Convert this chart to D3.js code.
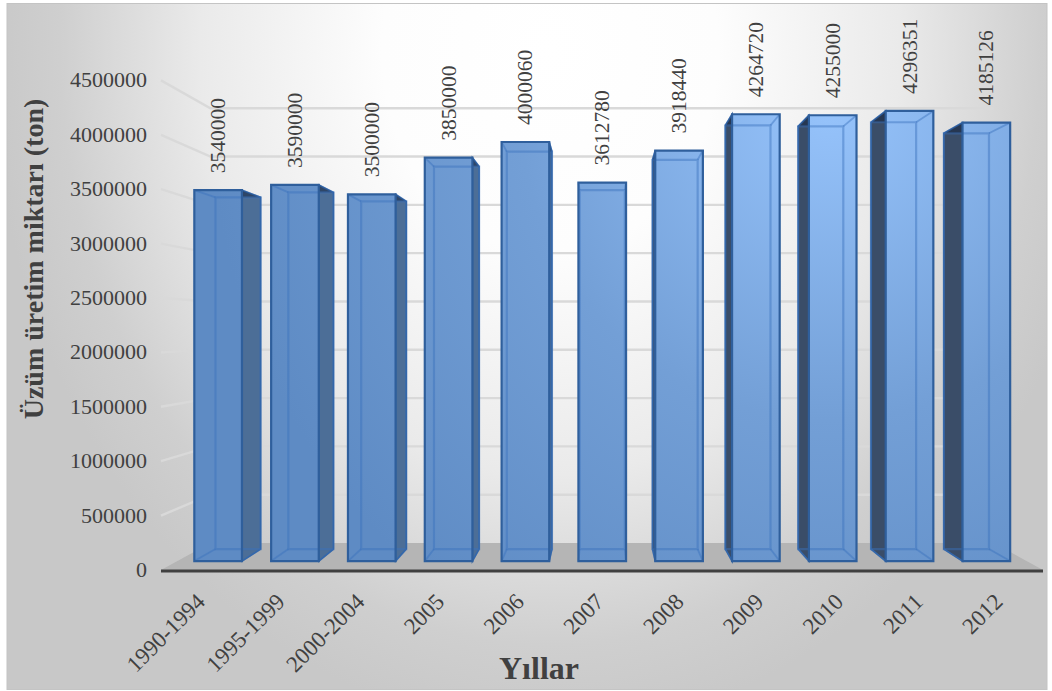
<!DOCTYPE html>
<html><head><meta charset="utf-8">
<script src="https://cdn.jsdelivr.net/npm/d3@7"></script>
<style>html,body{margin:0;padding:0;background:#fff}svg{display:block}</style></head>
<body><svg id="c" width="1052" height="691"></svg>
<script>
const categories=["1990-1994","1995-1999","2000-2004","2005","2006","2007","2008","2009","2010","2011","2012"];
const values=[3540000,3590000,3500000,3850000,4000060,3612780,3918440,4264720,4255000,4296351,4185126];
const yTicks=[0,500000,1000000,1500000,2000000,2500000,3000000,3500000,4000000,4500000];
const xTitle="Yıllar", yTitle="Üzüm üretim miktarı (ton)";

const svg=d3.select("#c");
const font="'Liberation Serif','Times New Roman',serif";
const text="#404040";
// perspective projection of the 3D column chart
const vx=602, vy=329, baseY=570;
const sWall=0.888, sFront=0.963, sBack=0.913;
const x=d3.scaleBand().domain(categories).range([163.5,1041]).paddingInner(0.38).paddingOuter(0.19);
const h=d3.scaleLinear().domain([0,4500000]).range([0,489.6]);
const P=(X,v,s)=>[vx+(X-vx)*s, vy+(baseY-h(v)-vy)*s];
const poly=a=>a.map(p=>p.join(",")).join(" ");

const defs=svg.append("defs");
const bg=defs.append("radialGradient").attr("id","bg").attr("gradientUnits","userSpaceOnUse")
  .attr("cx",0).attr("cy",0).attr("r",1).attr("gradientTransform","translate(550,50) scale(560,680)");
[[0,"#ffffff"],[0.3,"#fdfdfd"],[0.625,"#eaeaea"],[0.875,"#cfcfcf"],[1,"#c8c8c8"]].forEach(d=>bg.append("stop").attr("offset",d[0]).attr("stop-color",d[1]));
const fg=defs.append("radialGradient").attr("id","bar").attr("gradientUnits","userSpaceOnUse")
  .attr("cx",830).attr("cy",110).attr("r",620);
[[0,"#96c3fb"],[0.5,"#739fd6"],[1,"#5e8bc4"]].forEach(d=>fg.append("stop").attr("offset",d[0]).attr("stop-color",d[1]));

svg.append("rect").attr("x",7).attr("y",3.5).attr("width",1040).attr("height",686).attr("fill","url(#bg)")
  .attr("stroke","#c4c4c4").attr("stroke-width",1);

// floor
svg.append("polygon").attr("fill","#b5b5b5")
  .attr("points",poly([P(161,0,1),P(161,0,sWall),P(1043,0,sWall),P(1043,0,1)]));
// gridlines: side wall + back wall
const grid=svg.append("g").attr("stroke","#d9d9d9").attr("stroke-width",2.4).attr("fill","none");
yTicks.filter(v=>v>0).forEach(v=>{
  grid.append("polyline").attr("points",poly([P(161,v,1),P(161,v,sWall),P(1043,v,sWall)]));
});
// axis
svg.append("line").attr("x1",161).attr("x2",1043).attr("y1",baseY+1).attr("y2",baseY+1)
  .attr("stroke","#404040").attr("stroke-width",3);

// bars
const bars=svg.append("g").selectAll("g").data(categories.map((c,i)=>({c,v:values[i]}))).join("g");
const edge="#2f5f9c", inner="#3a72bd";
bars.each(function(d){
  const g=d3.select(this), L=x(d.c), R=L+x.bandwidth();
  const fTL=P(L,d.v,sFront),fTR=P(R,d.v,sFront),fBL=P(L,0,sFront),fBR=P(R,0,sFront);
  const bTL=P(L,d.v,sBack),bTR=P(R,d.v,sBack),bBL=P(L,0,sBack),bBR=P(R,0,sBack);
  g.append("polygon").attr("points",poly([bTL,bTR,bBR,bBL])).attr("fill","url(#bar)");
  const sideLeft=L>vx;
  const sideRight=R<vx;
  if(sideRight) g.append("polygon").attr("points",poly([fTR,bTR,bBR,fBR])).attr("fill","#4c6e97").attr("stroke",edge).attr("stroke-width",1.5);
  if(sideLeft) g.append("polygon").attr("points",poly([fTL,bTL,bBL,fBL])).attr("fill","#3a4d68").attr("stroke",edge).attr("stroke-width",1.5);
  g.append("polygon").attr("points",poly([fTL,fTR,bTR,bTL])).attr("fill","#16263f").attr("fill-opacity",0.55);
  g.append("polygon").attr("points",poly([fTL,fTR,fBR,fBL])).attr("fill","url(#bar)");
  // edges of the far face, seen through the front
  g.append("polygon").attr("points",poly([bTL,bTR,bBR,bBL])).attr("fill","none").attr("stroke",inner).attr("stroke-opacity",0.45).attr("stroke-width",2.2);
  [[fTL,bTL],[fTR,bTR],[fBL,bBL],[fBR,bBR]].forEach(e=>{
    g.append("line").attr("x1",e[0][0]).attr("y1",e[0][1]).attr("x2",e[1][0]).attr("y2",e[1][1]).attr("stroke",inner).attr("stroke-opacity",0.45).attr("stroke-width",1.8);
  });
  g.append("polygon").attr("points",poly([fTL,fTR,fBR,fBL])).attr("fill","none").attr("stroke",edge).attr("stroke-width",2.2);
  // value label
  const cx=(fTL[0]+fTR[0])/2;
  g.append("text").attr("transform",`translate(${cx+7},${fTL[1]-17}) rotate(-90)`)
    .attr("font-family",font).attr("font-size",21.5).attr("fill",text).text(d.v);
});

// axis labels
svg.append("g").selectAll("text").data(yTicks).join("text")
  .attr("x",147).attr("y",d=>baseY-h(d)+7).attr("text-anchor","end")
  .attr("font-family",font).attr("font-size",22).attr("fill",text).text(d=>d);
svg.append("g").selectAll("text").data(categories).join("text")
  .attr("transform",d=>`translate(${x(d)+x.bandwidth()/2+3},603) rotate(-45)`)
  .attr("text-anchor","end").attr("font-family",font).attr("font-size",23).attr("fill",text).text(d=>d);
svg.append("text").attr("x",539).attr("y",679).attr("text-anchor","middle")
  .attr("font-family",font).attr("font-size",32).attr("font-weight","bold").attr("fill",text).text(xTitle);
svg.append("text").attr("transform","translate(43,259) rotate(-90)").attr("text-anchor","middle")
  .attr("font-family",font).attr("font-size",28).attr("font-weight","bold").attr("fill",text).text(yTitle);
</script></body></html>
